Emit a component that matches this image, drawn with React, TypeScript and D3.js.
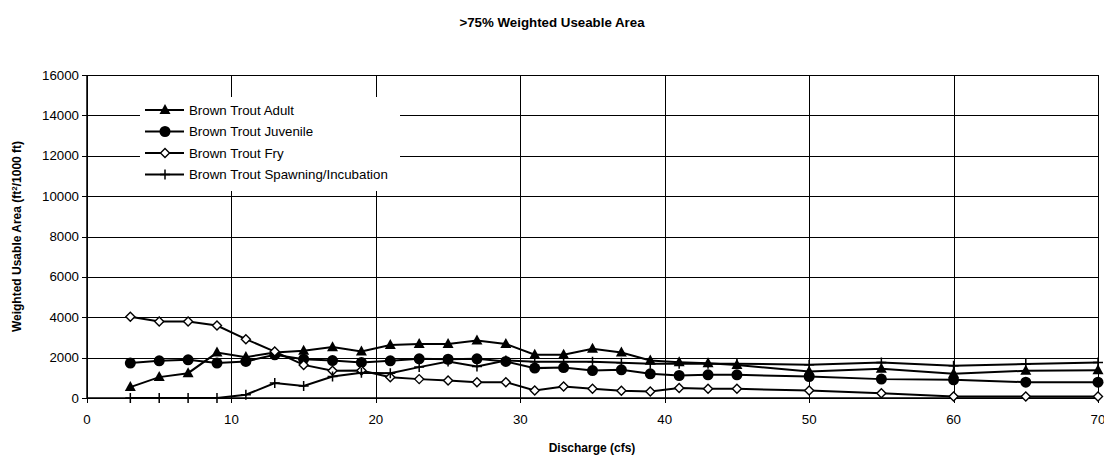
import React from "react";
import * as d3 from "d3";

const discharge = [3, 5, 7, 9, 11, 13, 15, 17, 19, 21, 23, 25, 27, 29, 31, 33, 35, 37, 39, 41, 43, 45, 50, 55, 60, 65, 70];
const adult = [540, 1035, 1230, 2250, 2025, 2250, 2340, 2520, 2300, 2630, 2680, 2680, 2850, 2680, 2140, 2140, 2435, 2250, 1860, 1775, 1720, 1640, 1310, 1450, 1200, 1350, 1370];
const juvenile = [1730, 1840, 1890, 1730, 1810, 2140, 1925, 1855, 1760, 1840, 1940, 1920, 1940, 1810, 1480, 1510, 1360, 1395, 1200, 1115, 1150, 1150, 1065, 935, 900, 785, 785];
const fry = [4030, 3790, 3790, 3590, 2915, 2300, 1640, 1345, 1360, 1030, 935, 870, 785, 785, 370, 570, 455, 355, 320, 490, 455, 455, 370, 240, 75, 75, 75];
const spawning = [0, 0, 0, 0, 160, 740, 600, 1065, 1250, 1230, 1530, 1810, 1560, 1860, 1800, 1800, 1800, 1750, 1700, 1700, 1700, 1700, 1650, 1760, 1600, 1680, 1760];
const seriesNames = ["Brown Trout Adult", "Brown Trout Juvenile", "Brown Trout Fry", "Brown Trout Spawning/Incubation"];
const markerKinds = ["triangle", "circle", "diamond", "plus"];
const xTicks = [0, 10, 20, 30, 40, 50, 60, 70];
const yTicks = [0, 2000, 4000, 6000, 8000, 10000, 12000, 14000, 16000];

const W = 1104, H = 459;
const X0 = 87, X1 = 1098, Y0 = 75, Y1 = 398;
const FONT = "'Liberation Sans', Arial, sans-serif";

function Marker({ kind, x, y }: { kind: string; x: number; y: number }) {
  if (kind === "triangle") {
    return <path d={`M${x},${y - 6}L${x + 5.5},${y + 4}L${x - 5.5},${y + 4}Z`} fill="#000" />;
  }
  if (kind === "circle") {
    return <circle cx={x} cy={y} r={5.5} fill="#000" />;
  }
  if (kind === "diamond") {
    return <path d={`M${x},${y - 4.5}L${x + 4.5},${y}L${x},${y + 4.5}L${x - 4.5},${y}Z`} fill="#fff" stroke="#000" strokeWidth={1.4} />;
  }
  return <path d={`M${x},${y - 5}V${y + 5}M${x - 5},${y}H${x + 5}`} stroke="#000" strokeWidth={1.5} />;
}

export default function App() {
  const x = d3.scaleLinear().domain([0, 70]).range([X0, X1]);
  const y = d3.scaleLinear().domain([0, 16000]).range([Y1, Y0]);
  const allSeries = [adult, juvenile, fry, spawning];
  const line = d3.line<[number, number]>().x((d) => x(d[0])).y((d) => y(d[1]));

  const legendY = [110, 131.5, 153, 174.5];

  return (
    <svg width={W} height={H} style={{ position: "absolute", left: 0, top: 0, background: "#fff" }} fontFamily={FONT}>
      <rect x={0} y={0} width={W} height={H} fill="#fff" />
      <text x={552} y={27} textAnchor="middle" fontSize={13.3} fontWeight="bold">&gt;75% Weighted Useable Area</text>

      {/* gridlines */}
      {yTicks.map((t) => (
        <line key={"gy" + t} x1={X0 - 5} x2={X1} y1={Math.round(y(t)) + 0.5} y2={Math.round(y(t)) + 0.5} stroke="#000" strokeWidth={1} />
      ))}
      {xTicks.map((t) => (
        <line key={"gx" + t} x1={Math.round(x(t)) + 0.5} x2={Math.round(x(t)) + 0.5} y1={Y0} y2={Y1 + 5} stroke="#000" strokeWidth={1} />
      ))}
      <rect x={X0 + 0.5} y={Math.round(Y0) + 0.5} width={X1 - X0} height={Math.round(Y1) - Math.round(Y0)} fill="none" stroke="#000" strokeWidth={1} />
      <line x1={X0} x2={X0} y1={Y0} y2={Y1} stroke="#000" strokeWidth={1.5} />
      <line x1={X0} x2={X1} y1={Y1} y2={Y1} stroke="#000" strokeWidth={1.5} />

      {/* tick labels */}
      {yTicks.map((t) => (
        <text key={"ly" + t} x={79} y={y(t) + 4.5} textAnchor="end" fontSize={13.3}>{t}</text>
      ))}
      {xTicks.map((t) => (
        <text key={"lx" + t} x={x(t)} y={424} textAnchor="middle" fontSize={13.3}>{t}</text>
      ))}

      {/* axis titles */}
      <text x={592} y={452} textAnchor="middle" fontSize={12} fontWeight="bold">Discharge (cfs)</text>
      <text transform={`translate(21,${(Y0 + Y1) / 2}) rotate(-90)`} textAnchor="middle" fontSize={12} fontWeight="bold">
        Weighted Usable Area (ft<tspan dy={-4} fontSize={8}>2</tspan><tspan dy={4}>/1000 ft)</tspan>
      </text>

      {/* legend background */}
      <rect x={140} y={97} width={260} height={94} fill="#fff" />

      {/* series */}
      {allSeries.map((vals, i) => {
        const pts: [number, number][] = discharge.map((d, j) => [d, vals[j]]);
        return (
          <g key={"s" + i}>
            <path d={line(pts) || ""} fill="none" stroke="#000" strokeWidth={2} />
            {pts.map((p, j) => (
              <Marker key={j} kind={markerKinds[i]} x={x(p[0])} y={y(p[1])} />
            ))}
          </g>
        );
      })}

      {/* legend */}
      {seriesNames.map((name, i) => (
        <g key={"lg" + i}>
          <line x1={145} x2={184} y1={legendY[i]} y2={legendY[i]} stroke="#000" strokeWidth={2} />
          <Marker kind={markerKinds[i]} x={165} y={legendY[i]} />
          <text x={189} y={legendY[i] + 4.5} fontSize={13.3}>{name}</text>
        </g>
      ))}
    </svg>
  );
}
